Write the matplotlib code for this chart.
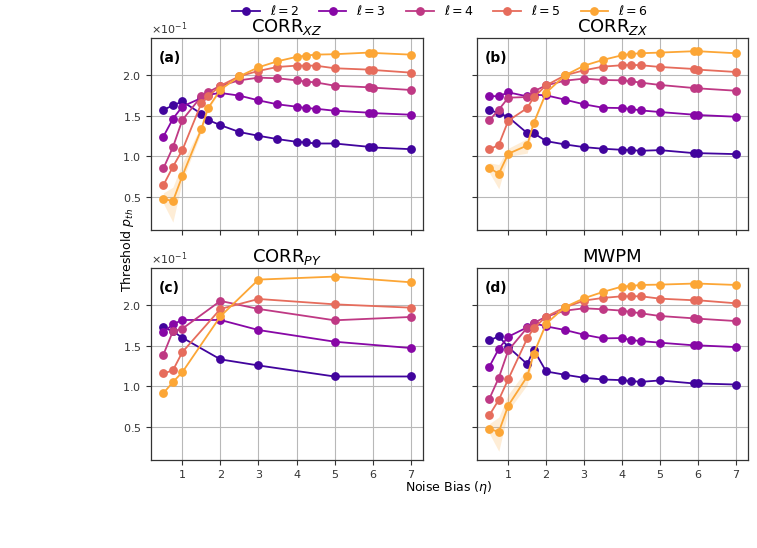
import matplotlib
matplotlib.use("Agg")
import matplotlib.pyplot as plt
import numpy as np
from matplotlib.ticker import ScalarFormatter

# ---------------- data (threshold values shown in units of 1e-1) ----------------
eta_full = [0.5, 0.75, 1, 1.5, 1.67, 2, 2.5, 3, 3.5, 4, 4.25, 4.5, 5, 5.9, 6, 7]
eta_py = [0.5, 0.75, 1, 2, 3, 5, 7]
ells = [2, 3, 4, 5, 6]

a_l2 = [1.574, 1.628, 1.677, 1.525, 1.450, 1.385, 1.300, 1.254, 1.213, 1.180, 1.172, 1.159, 1.159, 1.118, 1.110, 1.089]
a_l3 = [1.243, 1.463, 1.615, 1.720, 1.760, 1.782, 1.749, 1.691, 1.642, 1.613, 1.596, 1.588, 1.563, 1.539, 1.534, 1.514]
a_l4 = [0.851, 1.112, 1.450, 1.740, 1.790, 1.872, 1.938, 1.971, 1.963, 1.938, 1.922, 1.913, 1.872, 1.852, 1.848, 1.819]
a_l5 = [0.644, 0.871, 1.078, 1.657, 1.739, 1.872, 1.988, 2.054, 2.103, 2.119, 2.119, 2.119, 2.087, 2.070, 2.066, 2.033]
a_l6 = [0.479, 0.446, 0.760, 1.339, 1.591, 1.823, 1.988, 2.099, 2.173, 2.227, 2.243, 2.255, 2.260, 2.280, 2.276, 2.255]

b_l2 = [1.571, 1.534, 1.485, 1.287, 1.287, 1.188, 1.147, 1.114, 1.094, 1.081, 1.077, 1.069, 1.077, 1.040, 1.040, 1.028]
b_l3 = [1.745, 1.740, 1.790, 1.740, 1.760, 1.753, 1.699, 1.642, 1.600, 1.596, 1.584, 1.567, 1.547, 1.514, 1.510, 1.489]
b_l4 = [1.444, 1.576, 1.724, 1.732, 1.802, 1.876, 1.934, 1.959, 1.942, 1.938, 1.926, 1.909, 1.881, 1.843, 1.839, 1.810]
b_l5 = [1.085, 1.143, 1.440, 1.596, 1.728, 1.876, 2.000, 2.062, 2.107, 2.124, 2.128, 2.124, 2.103, 2.078, 2.070, 2.041]
b_l6 = [0.859, 0.785, 1.032, 1.135, 1.411, 1.786, 2.000, 2.119, 2.190, 2.247, 2.264, 2.272, 2.280, 2.297, 2.297, 2.272]

c_l2 = [1.728, 1.679, 1.600, 1.333, 1.258, 1.122, 1.122]
c_l3 = [1.666, 1.765, 1.819, 1.819, 1.695, 1.551, 1.473]
c_l4 = [1.390, 1.679, 1.712, 2.054, 1.955, 1.815, 1.856]
c_l5 = [1.159, 1.197, 1.423, 1.955, 2.078, 2.012, 1.971]
c_l6 = [0.916, 1.052, 1.176, 1.864, 2.317, 2.354, 2.284]

d_l2 = [1.567, 1.617, 1.485, 1.275, 1.452, 1.184, 1.143, 1.106, 1.085, 1.077, 1.065, 1.056, 1.073, 1.036, 1.036, 1.023]
d_l3 = [1.242, 1.464, 1.613, 1.728, 1.780, 1.740, 1.695, 1.637, 1.592, 1.596, 1.571, 1.559, 1.539, 1.506, 1.506, 1.485]
d_l4 = [0.846, 1.106, 1.444, 1.724, 1.782, 1.860, 1.934, 1.963, 1.951, 1.934, 1.918, 1.901, 1.868, 1.839, 1.835, 1.806]
d_l5 = [0.644, 0.834, 1.089, 1.592, 1.716, 1.860, 1.975, 2.058, 2.091, 2.111, 2.111, 2.111, 2.082, 2.062, 2.062, 2.025]
d_l6 = [0.476, 0.438, 0.764, 1.122, 1.402, 1.773, 1.979, 2.087, 2.165, 2.231, 2.239, 2.251, 2.255, 2.268, 2.268, 2.251]

# confidence band of l=6 for the first six bias values
a_l6_lo = [0.42, 0.19, 0.70, 1.30, 1.57, 1.81]
a_l6_hi = [0.55, 0.62, 0.92, 1.38, 1.62, 1.84]
b_l6_lo = [0.80, 0.60, 1.00, 1.04, 1.38, 1.77]
b_l6_hi = [0.92, 0.90, 1.10, 1.22, 1.44, 1.80]
d_l6_lo = [0.42, 0.20, 0.70, 1.02, 1.38, 1.76]
d_l6_hi = [0.54, 0.62, 0.90, 1.22, 1.43, 1.79]

titles = [r"CORR$_{XZ}$", r"CORR$_{ZX}$", r"CORR$_{PY}$", "MWPM"]
panel_tags = ["(a)", "(b)", "(c)", "(d)"]
UNIT = 1e-1

# ---------------- figure ----------------
plt.rcParams["font.family"] = ["DejaVu Sans"]
fig = plt.figure(figsize=(7.57, 5.48), dpi=100)

W, H = 757, 548
def box(l, t, r, b):
    return [l / W, 1 - b / H, (r - l) / W, (b - t) / H]

ax_a = fig.add_axes(box(151, 38, 423, 230))
ax_b = fig.add_axes(box(477, 38, 748, 230), sharex=ax_a, sharey=ax_a)
ax_c = fig.add_axes(box(151, 268, 423, 460), sharex=ax_a, sharey=ax_a)
ax_d = fig.add_axes(box(477, 268, 748, 460), sharex=ax_a, sharey=ax_a)
axes = [ax_a, ax_b, ax_c, ax_d]

colors = [plt.cm.plasma(v) for v in np.linspace(0.1, 0.8, 5)]

panels = [
    (eta_full, [a_l2, a_l3, a_l4, a_l5, a_l6], (a_l6_lo, a_l6_hi)),
    (eta_full, [b_l2, b_l3, b_l4, b_l5, b_l6], (b_l6_lo, b_l6_hi)),
    (eta_py, [c_l2, c_l3, c_l4, c_l5, c_l6], None),
    (eta_full, [d_l2, d_l3, d_l4, d_l5, d_l6], (d_l6_lo, d_l6_hi)),
]

handles = []
for i, (ax, (xs, series, band)) in enumerate(zip(axes, panels)):
    if band is not None:
        lo, hi = band
        n = len(lo)
        ax.fill_between(xs[:n], np.asarray(lo) * UNIT, np.asarray(hi) * UNIT,
                        color=colors[4], alpha=0.2, linewidth=0)
    for j, (ell, ys) in enumerate(zip(ells, series)):
        h, = ax.plot(xs, np.asarray(ys) * UNIT, "-o", color=colors[j], lw=1.3,
                     ms=5.3, label=rf"$\ell = {ell}$", zorder=3)
        if i == 0:
            handles.append(h)
    ax.set_title(titles[i], fontsize=13, pad=4)
    ax.text(0.03, 0.93, panel_tags[i], transform=ax.transAxes, fontsize=10,
            fontweight="bold", va="top", ha="left")
    ax.grid(True, color="#b8b8b8", lw=0.8)
    ax.set_axisbelow(True)
    for s in ax.spines.values():
        s.set_color("#333333")
        s.set_linewidth(0.9)
    ax.tick_params(labelsize=8, colors="#333333", length=3.5)

ax_a.set_xticks([1, 2, 3, 4, 5, 6, 7])
ax_a.set_yticks([0.05, 0.10, 0.15, 0.20])
ax_a.set_ylim(0.0092, 0.246)
ax_a.set_xlim(0.175, 7.325)
fmt = ScalarFormatter(useMathText=True)
fmt.set_powerlimits((0, 0))
ax_a.yaxis.set_major_formatter(fmt)
for ax in axes:
    ax.yaxis.get_offset_text().set_fontsize(8)
    ax.yaxis.get_offset_text().set_color("#333333")

for ax in (ax_a, ax_b):
    ax.tick_params(labelbottom=False)
for ax in (ax_b, ax_d):
    ax.tick_params(labelleft=False)

fig.text(449 / W, 1 - 487 / H, r"Noise Bias ($\eta$)", ha="center", va="center", fontsize=9)
fig.text(127 / W, 1 - 250 / H, r"Threshold $p_{th}$", ha="center", va="center",
         rotation=90, fontsize=9)

fig.legend(handles=handles, loc="center", bbox_to_anchor=(440 / W, 1 - 11 / H),
           ncol=5, frameon=False, fontsize=9, handlelength=2.2, columnspacing=1.6)

fig.savefig("out.png", dpi=100)
